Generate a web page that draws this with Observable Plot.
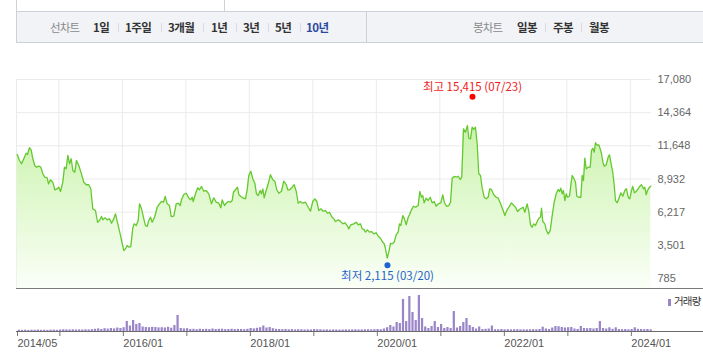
<!DOCTYPE html>
<html><head><meta charset="utf-8">
<script src="https://cdn.jsdelivr.net/npm/d3@7"></script>
<script src="https://cdn.jsdelivr.net/npm/@observablehq/plot@0.6"></script>
<style>
body{margin:0;background:#fff;width:703px;height:364px;overflow:hidden;position:relative;font-family:"Noto Sans CJK KR","Noto Sans",sans-serif;}
.abs{position:absolute;}
#topbox{left:16px;top:-1px;width:207px;height:12px;border-left:1px solid #cfd2d8;border-right:1px solid #cfd2d8;}
#bar{left:16px;top:11px;width:686px;height:30px;background:#f2f3f7;border:1px solid #cdd0d6;border-right:none;}
#div1{left:366px;top:12px;width:1px;height:30px;background:#cdd0d6;}
.t{position:absolute;top:19px;line-height:16px;font-size:11.5px;white-space:nowrap;}
.g{color:#8a8a8a;letter-spacing:-0.8px;}
.b{color:#333;font-weight:bold;letter-spacing:-0.5px;}
.sel{color:#2b4aa0;}
.sep{position:absolute;top:23px;width:1px;height:9px;background:#d9dbe0;}
.hl{position:absolute;left:16px;width:687px;height:1px;}
#legend{position:absolute;left:668px;top:294px;font-size:10.5px;color:#333;letter-spacing:-0.8px;line-height:14px;}
#legend i{display:inline-block;width:3px;height:7px;background:#9985c8;margin-right:3px;vertical-align:-0.5px;}
</style></head>
<body>
<div id="topbox" class="abs"></div>
<div id="bar" class="abs"></div>
<div id="div1" class="abs"></div>
<div id="tabs"></div>
<div id="main" class="abs" style="left:0;top:50px;"></div>
<div id="vol" class="abs" style="left:0;top:289px;"></div>
<div class="hl" style="top:288px;background:#7a7a7a;"></div>
<div class="hl" style="top:331px;background:#6a6a6a;"></div>
<div id="legend"><i></i>거래량</div>
<script>
// ---- data ----
const priceYears = [
2014.344,2014.380,2014.412,2014.448,2014.486,2014.506,2014.538,2014.564,2014.590,2014.621,2014.648,2014.684,2014.716,2014.747,2014.779,2014.816,2014.837,2014.868,2014.905,2014.936,2014.974,2014.999,
2015.026,2015.062,2015.089,2015.116,2015.141,2015.168,2015.194,2015.220,2015.251,2015.278,2015.314,2015.352,2015.393,2015.431,2015.471,2015.503,2015.534,2015.577,2015.609,2015.640,2015.672,2015.692,2015.724,2015.761,2015.798,2015.829,2015.865,2015.892,2015.928,2015.971,2015.998,
2016.023,2016.050,2016.076,2016.102,2016.133,2016.165,2016.187,2016.218,2016.250,2016.270,2016.302,2016.338,2016.364,2016.391,2016.416,2016.443,2016.470,2016.511,2016.549,2016.585,2016.616,2016.648,2016.675,2016.706,2016.742,2016.769,2016.810,2016.848,2016.879,2016.911,2016.931,2016.968,
2017.005,2017.046,2017.073,2017.100,2017.116,2017.152,2017.188,2017.215,2017.246,2017.283,2017.320,2017.361,2017.404,2017.440,2017.478,2017.519,2017.550,2017.572,2017.608,2017.635,2017.667,2017.703,2017.730,2017.750,2017.782,2017.813,2017.834,2017.865,2017.897,2017.939,2017.966,2017.991,
2018.023,2018.054,2018.086,2018.112,2018.139,2018.171,2018.191,2018.212,2018.234,2018.265,2018.297,2018.333,2018.369,2018.401,2018.432,2018.464,2018.506,2018.542,2018.580,2018.605,2018.637,2018.675,2018.706,2018.738,2018.769,2018.805,2018.842,2018.884,2018.927,2018.963,2018.999,
2019.031,2019.062,2019.094,2019.131,2019.157,2019.199,2019.231,2019.262,2019.294,2019.330,2019.357,2019.399,2019.431,2019.472,2019.503,2019.541,2019.566,2019.598,2019.645,2019.683,2019.714,2019.750,2019.777,2019.808,2019.829,2019.860,2019.892,2019.923,2019.960,2019.997,
2020.029,2020.065,2020.092,2020.123,2020.144,2020.171,2020.196,2020.223,2020.250,2020.281,2020.312,2020.344,2020.364,2020.385,2020.416,2020.443,2020.470,2020.502,2020.522,2020.554,2020.585,2020.617,2020.659,2020.684,2020.711,2020.731,2020.753,2020.785,2020.816,2020.848,2020.879,2020.911,2020.942,2020.974,
2021.015,2021.046,2021.073,2021.105,2021.141,2021.168,2021.194,2021.226,2021.262,2021.289,2021.320,2021.345,2021.372,2021.404,2021.435,2021.456,2021.482,2021.509,2021.535,2021.561,2021.588,2021.613,2021.640,2021.667,2021.698,2021.730,2021.761,2021.786,2021.813,2021.849,2021.887,2021.919,2021.950,2021.991,
2022.023,2022.061,2022.097,2022.128,2022.165,2022.192,2022.223,2022.254,2022.286,2022.312,2022.338,2022.375,2022.401,2022.428,2022.454,2022.479,2022.506,2022.533,2022.558,2022.585,2022.601,2022.621,2022.653,2022.679,2022.706,2022.738,2022.769,2022.801,2022.832,2022.864,2022.884,2022.905,2022.927,2022.947,2022.968,2022.990,
2023.010,2023.042,2023.062,2023.084,2023.109,2023.136,2023.157,2023.188,2023.220,2023.242,2023.262,2023.283,2023.305,2023.336,2023.368,2023.388,2023.409,2023.431,2023.451,2023.478,2023.503,2023.525,2023.546,2023.567,2023.588,2023.620,2023.651,2023.672,2023.692,2023.724,2023.746,2023.766,2023.793,2023.818,2023.850,2023.881,2023.913,2023.939,2023.966,2023.991,
2024.018,2024.038,2024.065,2024.092,2024.123,2024.149,2024.175,2024.207,2024.227,2024.250,2024.270,2024.302,2024.322];
const priceValues = [
10940,10450,10180,10590,11040,10940,11490,11320,10590,10040,9900,9980,9900,9360,9080,9030,8540,8870,8670,8050,8130,8260,
7910,8670,9900,9770,10860,10180,10590,9630,9490,10450,10040,9410,8670,8460,8460,8130,6490,6350,5390,5530,5860,5590,5750,5590,5670,5310,5670,6080,5260,4310,3630,
3080,3220,3490,3350,3400,4940,5260,5120,5530,6900,6490,5670,5120,5040,5530,5800,5390,5860,6620,6900,7090,7030,7500,6900,6760,5860,5890,6900,6950,6760,7230,7660,
7770,7390,7230,7440,7090,7720,8210,8050,8320,7930,7990,7720,6900,7390,7030,6950,6570,7230,6760,6950,7090,7030,7170,7850,8050,8260,7660,7500,7390,7310,8050,9220,
9570,8950,8590,7720,7580,7990,7720,8130,7390,7990,8540,9280,8870,8750,8050,7770,7930,8750,8480,8050,8050,8260,8460,7930,6950,7090,6950,7030,6620,6300,7090,
7310,7110,6350,6490,6300,6350,6130,6210,5860,5670,5450,5590,5480,5260,5350,5120,4850,5180,5260,5390,5180,5260,4850,4800,4580,4770,4580,4630,4440,4530,
4250,4080,3810,3630,3220,2450,2940,3670,3630,3760,4360,4580,5260,5120,5940,5670,5180,5800,6000,6430,6700,6620,6760,7910,7440,7580,6980,7360,7170,7440,6980,7090,6700,6900,
6980,7640,6980,6700,6760,7030,9000,9140,9080,9160,8890,9080,13040,12760,13310,12270,12220,13170,12990,13170,11810,9360,9220,8180,7440,7310,7440,8130,8070,7640,7440,7360,6980,6430,
5940,6430,6700,6980,6760,6620,6270,6430,6540,6620,6210,6900,6270,5180,4980,5260,5120,5450,5720,5800,6540,5450,5260,4710,4440,4710,5940,7030,7720,8070,7910,8180,7720,7990,7170,7720,
7440,7520,8400,9220,9000,8670,7520,7440,7440,9220,8810,10640,9770,9900,9900,11270,11450,11130,11900,11680,11730,11400,11000,10310,9980,10090,10720,10910,10310,9440,8400,7170,6980,7310,7800,7520,7990,8130,7440,7310,
7990,8320,7800,7910,8130,8340,8460,8130,8260,7640,7990,8260,8340];

const yTicks = [785, 3501, 6217, 8932, 11648, 14364, 17080];
const xTicks = [2014.333, 2015, 2016, 2017, 2018, 2019, 2020, 2021, 2022, 2023, 2024];
const xTickLabels = ["2014/05", "", "2016/01", "", "2018/01", "", "2020/01", "", "2022/01", "", "2024/01"];

const extremeKinds = ["최고", "최저"];
const extremeYears = [2021.514, 2020.175];
const extremeValues = [15415, 2115];
const extremeDates = ["07/23", "03/20"];

// volume: one bar every volStep years starting at volStart (thousand shares)
const volStart = 2014.36, volStep = 0.05;
const volValues = [
130,120,130,110,130,120,140,120,130,110,130,140,120,150,180,160,150,170,150,160,
150,170,160,180,220,260,200,280,240,300,260,350,300,380,1000,550,1100,700,800,450,
400,380,420,400,360,380,350,420,330,600,1600,300,260,280,200,220,180,230,200,220,
190,250,200,220,230,180,200,220,190,210,200,180,220,300,260,320,380,550,350,400,
280,220,200,180,200,170,190,160,180,170,150,160,150,200,180,170,150,160,140,160,
150,140,150,170,150,160,170,150,160,170,180,160,180,200,170,250,380,600,450,900,
800,3200,1000,3500,1900,1100,3600,1300,450,300,500,1000,400,700,300,400,300,2000,350,500,
900,1300,600,400,250,450,200,220,250,550,180,170,200,170,180,160,170,180,160,170,
160,170,180,170,200,430,250,200,350,500,480,400,350,380,400,250,200,500,300,280,
300,250,300,1000,300,250,370,220,370,200,180,200,170,200,370,220,200,180,200,170];

const tabLeftItems = ["1일", "1주일", "3개월", "1년", "3년", "5년", "10년"];
const tabRightItems = ["일봉", "주봉", "월봉"];

// ---- tab bar ----
const tabs = document.getElementById("tabs");
function addSpan(txt, x, cls){ const s=document.createElement("span"); s.className="t "+cls; s.textContent=txt; s.style.left=x+"px"; tabs.appendChild(s); }
function addSep(x){ const s=document.createElement("span"); s.className="sep"; s.style.left=x+"px"; tabs.appendChild(s); }
addSpan("선차트", 50, "g");
const leftX = [93, 125, 168, 211, 243, 275, 306];
const leftSep = [118, 161, 203, 236, 268, 300];
tabLeftItems.forEach((t,i)=>addSpan(t, leftX[i], i===tabLeftItems.length-1 ? "b sel" : "b"));
leftSep.forEach(addSep);
addSpan("봉차트", 473, "g");
const rightX = [517, 553, 589];
tabRightItems.forEach((t,i)=>addSpan(t, rightX[i], "b"));
[545, 581].forEach(addSep);

// ---- main price chart ----
const price = priceYears.map((t,i)=>({t, v: priceValues[i]}));
const extremes = extremeKinds.map((k,i)=>({t: extremeYears[i], v: extremeValues[i], label: `${k} ${d3.format(",")(extremeValues[i])} (${extremeDates[i]})`}));
const xDomain = [2014.333, 2024.333];
const yDomain = [-116, 17080];
const mainH = 239, mTop = 29;

const main = Plot.plot({
  width: 703, height: mainH,
  marginLeft: 16, marginRight: 52, marginTop: mTop, marginBottom: 0,
  style: {background: "transparent", fontFamily: "'Liberation Sans', Arial, sans-serif", fontSize: "11px", color: "#666", overflow: "visible"},
  x: {domain: xDomain, axis: null},
  y: {domain: yDomain, axis: null},
  marks: [
    Plot.ruleY(yTicks, {stroke: "#ebebeb"}),
    Plot.ruleX(xTicks, {stroke: "#ebebeb"}),
    Plot.areaY(price, {x: "t", y1: yDomain[0], y2: "v", fill: "url(#pg)"}),
    Plot.lineY(price, {x: "t", y: "v", stroke: "#64c92e", strokeWidth: 1.3}),
    Plot.axisY(yTicks, {anchor: "right", tickSize: 0, tickPadding: 6, tickFormat: d3.format(","), label: null}),
    Plot.dot([extremes[0]], {x: "t", y: "v", r: 3, fill: "#f00", stroke: "none", dy: -3}),
    Plot.dot([extremes[1]], {x: "t", y: "v", r: 3, fill: "#1f63d3", stroke: "none", dy: 3}),
    Plot.text([extremes[0]], {x: "t", y: "v", text: "label", fill: "#ee1c1c", dy: -13, fontSize: 11.5, fontFamily: "'Noto Sans CJK KR', sans-serif"}),
    Plot.text([extremes[1]], {x: "t", y: "v", text: "label", fill: "#1f63c9", dy: 14, fontSize: 11.5, fontFamily: "'Noto Sans CJK KR', sans-serif"})
  ]
});
const ns = "http://www.w3.org/2000/svg";
const defs = document.createElementNS(ns, "defs");
const lg = document.createElementNS(ns, "linearGradient");
lg.setAttribute("id", "pg");
lg.setAttribute("gradientUnits", "userSpaceOnUse");
lg.setAttribute("x1", "0"); lg.setAttribute("x2", "0");
lg.setAttribute("y1", String(mTop)); lg.setAttribute("y2", String(mainH));
[["0", "#bcef96"], ["1", "#fbfff8"]].forEach(([o,c])=>{ const s=document.createElementNS(ns,"stop"); s.setAttribute("offset",o); s.setAttribute("stop-color",c); lg.appendChild(s); });
defs.appendChild(lg);
main.insertBefore(defs, main.firstChild);
document.getElementById("main").appendChild(main);

// ---- volume chart ----
const vol = volValues.map((v,i)=>({t0: volStart + i*volStep, v}));
const labelMap = new Map(xTicks.map((t,i)=>[t, xTickLabels[i]]));
const volPlot = Plot.plot({
  width: 703, height: 75,
  marginLeft: 16, marginRight: 52, marginTop: 2, marginBottom: 33,
  style: {background: "transparent", fontFamily: "'Liberation Sans', Arial, sans-serif", fontSize: "11px", color: "#555", overflow: "visible"},
  x: {domain: xDomain, axis: null},
  y: {domain: [0, 4000], axis: null},
  marks: [
    Plot.rectY(vol, {x1: "t0", x2: d => d.t0 + 0.035, y1: 0, y2: "v", fill: "#9985c8"}),
    Plot.axisX(xTicks, {anchor: "bottom", tickSize: 5, tickPadding: 3, tickFormat: d => labelMap.get(d), textAnchor: "start", dx: 1, stroke: "#777", label: null})
  ]
});
document.getElementById("vol").appendChild(volPlot);
</script>
</body></html>
